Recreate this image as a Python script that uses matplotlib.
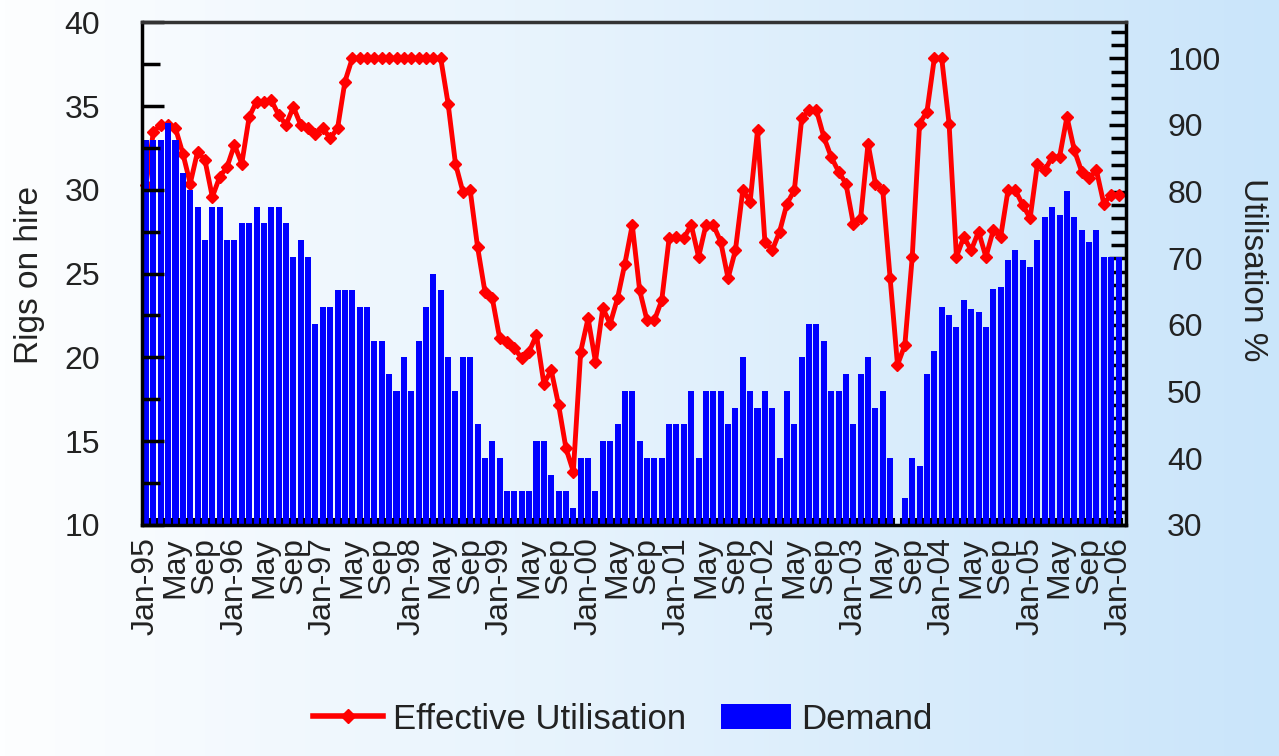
# Rigs on hire (demand) vs effective utilisation, monthly Jan-95 .. Jan-06

import numpy as np
import matplotlib.pyplot as plt
from matplotlib.ticker import MultipleLocator
from matplotlib.patches import Patch
from matplotlib.lines import Line2D

plt.rcParams.update({
    "font.family": ["Liberation Sans", "DejaVu Sans"],
    "font.size": 23,
    "text.color": "#222222",
    "xtick.color": "#222222",
    "ytick.color": "#222222",
})

# rigs on hire, one value per month, Jan-95 .. Jan-06
demand = [
    33, 33, 33, 34, 33, 31, 30, 29, 27, 29, 29, 27,                    # 1995
    27, 28, 28, 29, 28, 29, 29, 28, 26, 27, 26, 22,                    # 1996
    23, 23, 24, 24, 24, 23, 23, 21, 21, 19, 18, 20,                    # 1997
    18, 21, 23, 25, 24, 20, 18, 20, 20, 16, 14, 15,                    # 1998
    14, 12, 12, 12, 12, 15, 15, 13, 12, 12, 11, 14,                    # 1999
    14, 12, 15, 15, 16, 18, 18, 15, 14, 14, 14, 16,                    # 2000
    16, 16, 18, 14, 18, 18, 18, 16, 17, 20, 18, 17,                    # 2001
    18, 17, 14, 18, 16, 20, 22, 22, 21, 18, 18, 19,                    # 2002
    16, 19, 20, 17, 18, 14, 10, 11.6, 14, 13.5, 19, 20.4,              # 2003
    23, 22.5, 21.8, 23.4, 22.9, 22.7, 21.8, 24.1, 24.2, 25.8, 26.4, 25.8,  # 2004
    25.4, 27, 28.4, 29, 28.5, 29.9, 28.4, 27.6, 26.9, 27.6, 26, 26,    # 2005
    26,                                                                # 2006
]

# effective utilisation in %
utilisation = [
    81, 89, 90, 90, 89.5, 85.7, 81.2, 86, 84.7, 79.2, 82.2, 83.7,
    87, 84.2, 91.2, 93.5, 93.5, 93.7, 91.5, 90, 92.7, 90, 89.5, 88.7,
    89.5, 88, 89.5, 96.5, 100, 100, 100, 100, 100, 100, 100, 100,
    100, 100, 100, 100, 100, 93.2, 84.2, 80, 80.2, 71.7, 65, 64,
    58, 57.5, 56.5, 55, 56, 58.5, 51.2, 53.2, 48, 41.5, 38, 56,
    61, 54.5, 62.5, 60.2, 64, 69.2, 75, 65.2, 60.7, 60.7, 63.7, 73,
    73.2, 73, 75, 70.2, 75, 75, 72.5, 67, 71.2, 80.2, 78.5, 89.2,
    72.5, 71.2, 74, 78.2, 80.2, 91, 92.2, 92.2, 88.2, 85.2, 83, 81.2,
    75.2, 76, 87.2, 81.2, 80.2, 67, 54, 57, 70.2, 90.2, 92, 100,
    100, 90.2, 70.2, 73.2, 71.2, 74, 70.2, 74.2, 73.2, 80.2, 80.2, 78,
    76, 84.2, 83.2, 85.2, 85.2, 91.2, 86.2, 83, 82, 83.2, 78.2, 79.5,
    79.5,
]

# one label every four months
tick_labels = [
    "Jan-95", "May", "Sep", "Jan-96", "May", "Sep", "Jan-97", "May", "Sep",
    "Jan-98", "May", "Sep", "Jan-99", "May", "Sep", "Jan-00", "May", "Sep",
    "Jan-01", "May", "Sep", "Jan-02", "May", "Sep", "Jan-03", "May", "Sep",
    "Jan-04", "May", "Sep", "Jan-05", "May", "Sep", "Jan-06",
]

x = np.arange(len(demand))

fig = plt.figure(figsize=(12.79, 7.56), dpi=100)

# white -> light blue background
bg = fig.add_axes([0, 0, 1, 1], zorder=-10)
t = np.linspace(0, 1, 256)[:, None]
c0 = np.array([253, 254, 255]) / 255
c1 = np.array([202, 229, 250]) / 255
bg.imshow((c0 * (1 - t) + c1 * t)[None, :, :], aspect="auto", extent=[0, 1, 0, 1])
bg.axis("off")

ax = fig.add_axes([0.111, 0.3056, 0.769, 0.665])
ax2 = ax.twinx()
# bars sit on top of the line
ax.set_zorder(ax2.get_zorder() + 1)
ax.patch.set_visible(False)
ax2.patch.set_visible(False)

ax.bar(x, demand, width=0.82, color="#0000FF", linewidth=0)
ax2.plot(x, utilisation, color="#FF0000", lw=3.5, marker="D", ms=6.5, clip_on=False)

ax.set_xlim(-0.55, 132.95)
ax.set_ylim(10, 40)
ax2.set_ylim(30, 105.4)

ax.set_xticks(x[::4])
ax.set_xticklabels(tick_labels, rotation=90)
ax.set_xticks(np.arange(-0.5, len(x), 1), minor=True)
ax.tick_params(axis="x", which="major", length=0, pad=9)
ax.tick_params(axis="x", which="minor", direction="in", length=5, width=1.5, color="black")

ax.yaxis.set_major_locator(MultipleLocator(5))
ax.yaxis.set_minor_locator(MultipleLocator(2.5))
ax.tick_params(axis="y", which="major", direction="in", length=16, width=2.5, color="black", pad=30)
ax.tick_params(axis="y", which="minor", direction="in", length=13, width=2.5, color="black")

ax2.yaxis.set_major_locator(MultipleLocator(10))
ax2.yaxis.set_minor_locator(MultipleLocator(2))
ax2.tick_params(axis="y", which="major", direction="in", length=12, width=2.5, color="black", pad=30)
ax2.tick_params(axis="y", which="minor", direction="in", length=11, width=2.5, color="black")

for s in ax.spines.values():
    s.set_linewidth(2.5)
    s.set_color("black")
ax.spines["top"].set_color("#333333")
for s in ax2.spines.values():
    s.set_visible(False)

fig.text(30 / 1279, 1 - 275 / 756, "Rigs on hire", rotation=90, ha="center", va="center", fontsize=24)
fig.text(1252 / 1279, 1 - 270 / 756, "Utilisation %", rotation=270, ha="center", va="center", fontsize=24)

handles = [
    Line2D([], [], color="#FF0000", lw=4, marker="D", ms=7),
    Patch(facecolor="#0000FF"),
]
fig.legend(handles, ["Effective Utilisation", "Demand"], loc="lower center",
           bbox_to_anchor=(0.487, 0.004), ncol=2, frameon=False, fontsize=25,
           borderpad=0, handlelength=2.0, handletextpad=0.3, columnspacing=1.0)

plt.savefig("out.png", dpi=100)
plt.close()
